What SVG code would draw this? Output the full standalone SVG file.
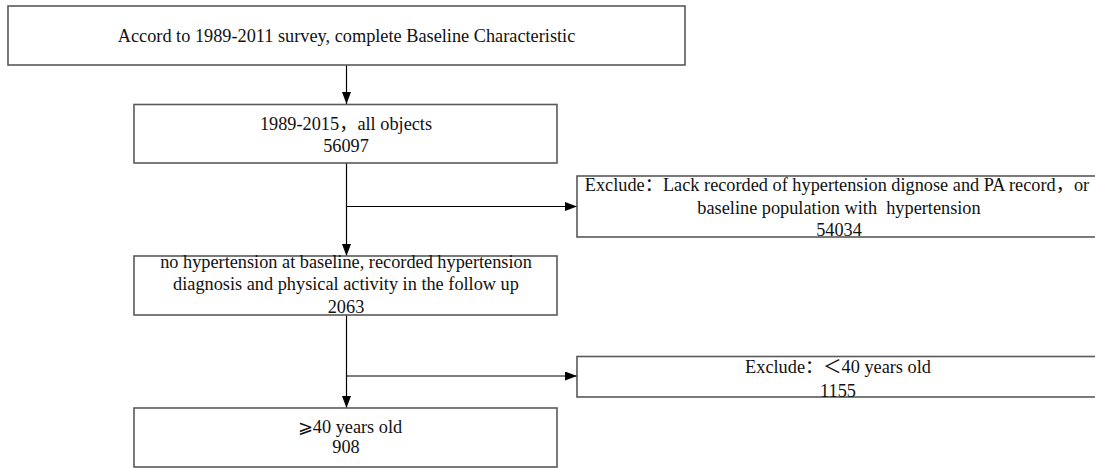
<svg xmlns="http://www.w3.org/2000/svg" width="1095" height="468" viewBox="0 0 1095 468">
<style>
.box{fill:#fff;stroke:#595959;stroke-width:1.6}
.t{font-family:"Liberation Serif","Noto Sans CJK SC",serif;font-size:18.3px;fill:#111;text-anchor:middle}
.c{stroke:#000;stroke-width:1.2;fill:none}
</style>
<defs>
<marker id="arr" markerUnits="userSpaceOnUse" markerWidth="14" markerHeight="10" refX="12" refY="4.5" orient="auto">
<path d="M0,0 L12,4.5 L0,9 z" fill="#000"/>
</marker>
</defs>
<rect width="1095" height="468" fill="#fff"/>
<g id="connectors">
<line class="c" x1="346.5" y1="65" x2="346.5" y2="104" marker-end="url(#arr)"/>
<line class="c" x1="346.5" y1="163" x2="346.5" y2="256" marker-end="url(#arr)"/>
<line class="c" x1="346.5" y1="206.5" x2="577" y2="206.5" marker-end="url(#arr)"/>
<line class="c" x1="346.5" y1="315" x2="346.5" y2="408" marker-end="url(#arr)"/>
<line class="c" x1="346.5" y1="376" x2="577" y2="376" marker-end="url(#arr)"/>
</g>
<g id="n1">
<rect class="box" x="8" y="6" width="677" height="59"/>
<text class="t" x="346.5" y="42">Accord to 1989-2011 survey, complete Baseline Characteristic</text>
</g>
<g id="n2">
<rect class="box" x="134" y="104.5" width="423" height="58.5"/>
<text class="t" x="346" y="130">1989-2015，all objects</text>
<text class="t" x="346" y="151.5">56097</text>
</g>
<g id="n3">
<rect class="box" x="577" y="176" width="524" height="61"/>
<text class="t" x="837" y="191">Exclude：Lack recorded of hypertension dignose and PA record，or</text>
<text class="t" x="839" y="214" xml:space="preserve">baseline population with  hypertension</text>
<text class="t" x="839" y="236">54034</text>
</g>
<g id="n4">
<rect class="box" x="134" y="256" width="423" height="59"/>
<text class="t" x="346" y="268">no hypertension at baseline, recorded hypertension</text>
<text class="t" x="346" y="290">diagnosis and physical activity in the follow up</text>
<text class="t" x="346" y="312.5">2063</text>
</g>
<g id="n5">
<rect class="box" x="577" y="356.5" width="524" height="40.5"/>
<text class="t" x="838" y="372.5">Exclude：＜40 years old</text>
<text class="t" x="838" y="396.5">1155</text>
</g>
<g id="n6">
<rect class="box" x="134" y="408" width="423" height="59"/>
<text class="t" x="350" y="432.5">⩾40 years old</text>
<text class="t" x="346" y="453">908</text>
</g>
</svg>
